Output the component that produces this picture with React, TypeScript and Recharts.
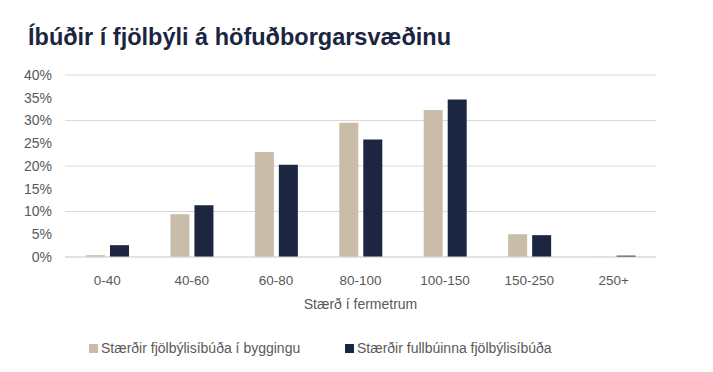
import { BarChart, Bar, XAxis, YAxis, CartesianGrid, Legend } from 'recharts';

const categories = ['0-40', '40-60', '60-80', '80-100', '100-150', '150-250', '250+'];
const underConstruction = [0.4, 9.4, 23.1, 29.5, 32.3, 5.0, 0.05];
const completed = [2.6, 11.4, 20.3, 25.8, 34.6, 4.8, 0.3];
const yTicks = [0, 5, 10, 15, 20, 25, 30, 35, 40];

const seriesNames = ['Stærðir fjölbýlisíbúða í byggingu', 'Stærðir fullbúinna fjölbýlisíbúða'];
const TAN = '#c9bca9';
const NAVY = '#1c2640';
const FONT = '"Liberation Sans", Arial, sans-serif';

const data = categories.map((name, i) => ({
  name,
  building: underConstruction[i],
  done: completed[i],
}));

function LegendBox() {
  const items = [
    { label: seriesNames[0], color: TAN },
    { label: seriesNames[1], color: NAVY },
  ];
  return (
    <div style={{ display: 'flex', fontFamily: FONT, fontSize: 14, color: '#595959' }}>
      {items.map((it, i) => (
        <div key={it.label} style={{ display: 'flex', alignItems: 'center', width: i === 0 ? 256 : 'auto' }}>
          <span style={{ width: 9, height: 9, background: it.color, marginRight: 3, display: 'inline-block' }} />
          <span>{it.label}</span>
        </div>
      ))}
    </div>
  );
}

export default function App() {
  return (
    <div style={{ position: 'fixed', left: 0, top: 0, width: 713, height: 372, background: '#fff' }}>
      <div
        style={{
          position: 'absolute',
          left: 28,
          top: 24,
          fontFamily: FONT,
          fontWeight: 'bold',
          fontSize: 23.5,
          color: '#1b2541',
          whiteSpace: 'nowrap',
        }}
      >
        Íbúðir í fjölbýli á höfuðborgarsvæðinu
      </div>
      <BarChart
        width={713}
        height={372}
        data={data}
        margin={{ top: 75, right: 57, left: 0, bottom: 55 }}
        barSize={19}
        barGap={5}
      >
        <CartesianGrid vertical={false} stroke="#d9d9d9" />
        <XAxis
          dataKey="name"
          height={60}
          tickLine={false}
          tickSize={0}
          tickMargin={18}
          axisLine={{ stroke: '#d9d9d9' }}
          tick={{ fontSize: 13.5, fill: '#595959', fontFamily: FONT }}
          label={{
            value: 'Stærð í fermetrum',
            position: 'insideBottom',
            offset: 8,
            style: { fontSize: 14, fill: '#595959', fontFamily: FONT },
          }}
        />
        <YAxis
          domain={[0, 40]}
          ticks={yTicks}
          width={65}
          tickLine={false}
          axisLine={false}
          tickSize={0}
          tickMargin={13}
          tickFormatter={(v: number) => `${v}%`}
          tick={{ fontSize: 14, fill: '#595959', fontFamily: FONT }}
        />
        <Legend
          layout="horizontal"
          verticalAlign="middle"
          align="center"
          wrapperStyle={{ top: 340, left: 89, width: 600 }}
          content={() => <LegendBox />}
        />
        <Bar dataKey="building" name={seriesNames[0]} fill={TAN} isAnimationActive={false} />
        <Bar dataKey="done" name={seriesNames[1]} fill={NAVY} isAnimationActive={false} />
      </BarChart>
    </div>
  );
}
